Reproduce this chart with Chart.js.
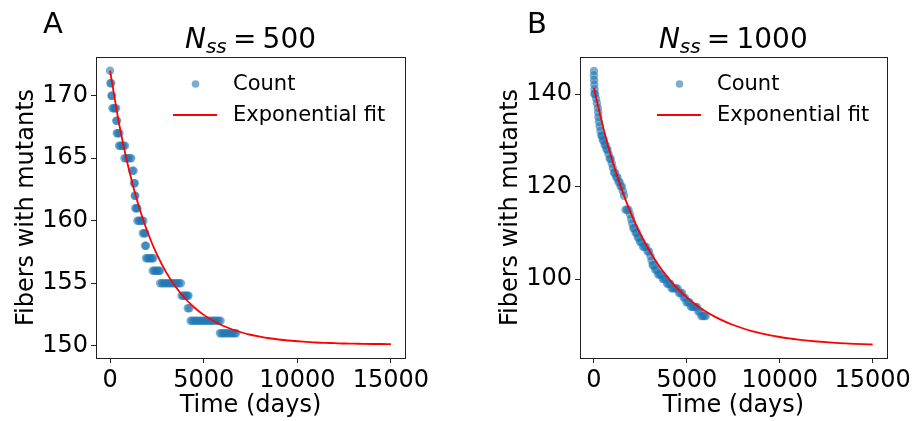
<!DOCTYPE html>
<html>
<head>
<meta charset="utf-8">
<script src="https://cdn.jsdelivr.net/npm/chart.js@4.4.1/dist/chart.umd.min.js"></script>
<style>
  html, body { margin: 0; padding: 0; background: #fff; }
  #wrap { position: relative; width: 915px; height: 421px; overflow: hidden; }
  canvas { position: absolute; top: 0; }
  #painelA { left: 0; }
  #painelB { left: 484px; }
</style>
</head>
<body>
<div id="wrap">
  <canvas id="painelA" width="457" height="421"></canvas>
  <canvas id="painelB" width="431" height="421"></canvas>
</div>
<script>
// dados (tempo em dias, contagem de fibras)
const timesA = [
  0,
  20, 60,
  70, 110,
  130, 200, 260, 320,
  330, 380,
  360, 430, 500,
  480, 560, 640, 720, 800,
  770, 860, 950, 1040, 1130,
  1190, 1260,
  1280, 1320,
  1320, 1350,
  1350, 1410, 1460,
  1460, 1540, 1620, 1700, 1780,
  1750, 1820, 1880,
  1870, 1920,
  1920, 2000, 2080, 2160, 2240, 2310,
  2280, 2360, 2440, 2520, 2600, 2670,
  2680, 2780, 2880, 2980, 3080, 3180, 3280, 3380, 3480, 3580, 3680, 3780,
  3820, 3900, 3980, 4060, 4130, 4190,
  4150, 4240,
  4300, 4400, 4500, 4600, 4700, 4800, 4900, 5000, 5100, 5200, 5300, 5400, 5500, 5600, 5700, 5800, 5900,
  5870, 5960, 6060, 6160, 6260, 6360, 6460, 6560, 6650, 6730
];
const countsA = [
  172,
  171, 171,
  170, 170,
  169, 169, 169, 169,
  168, 168,
  167, 167, 167,
  166, 166, 166, 166, 166,
  165, 165, 165, 165, 165,
  164, 164,
  163, 163,
  162, 162,
  161, 161, 161,
  160, 160, 160, 160, 160,
  159, 159, 159,
  158, 158,
  157, 157, 157, 157, 157, 157,
  156, 156, 156, 156, 156, 156,
  155, 155, 155, 155, 155, 155, 155, 155, 155, 155, 155, 155,
  154, 154, 154, 154, 154, 154,
  153, 153,
  152, 152, 152, 152, 152, 152, 152, 152, 152, 152, 152, 152, 152, 152, 152, 152, 152,
  151, 151, 151, 151, 151, 151, 151, 151, 151, 151
];

const timesB = [
  0, 0, 10, 20, 30, 20, 60, 120, 160, 210, 230, 240, 270, 310, 350, 400, 440, 480, 530, 580,
  630, 680, 730, 790, 850, 900, 960, 1020, 1080, 1140, 1200, 1260, 1320, 1380, 1440, 1500, 1560, 1620,
  1700, 1780, 1860, 1940, 2000, 2060, 2120, 2180, 2240, 2300, 2360, 2420, 2480, 2560, 2640, 2720,
  2800, 2880, 2960, 3040, 3100, 3160, 3220, 3300, 3380, 3460, 3540, 3620, 3700, 3780, 3860, 3940,
  4020, 4100, 4180, 4260, 4340, 4420, 4500, 4580, 4660, 4740, 4820, 4900, 4980, 5060, 5140, 5220,
  5300, 5380, 5460, 5540, 5620, 5700, 5780, 5860, 5940, 6020
];
const countsB = [
  145, 144, 143, 142, 141, 140, 140, 139, 138, 137, 136, 135, 134, 133, 132, 131, 131, 130, 130, 129,
  129, 128, 128, 127, 126, 126, 125, 124, 123, 123, 122, 122, 121, 121, 120, 120, 119, 118,
  115, 115, 115, 114, 113, 112, 111, 111, 110, 110, 109, 109, 108, 108, 107, 107,
  107, 106, 106, 105, 104, 103, 103, 102, 102, 101, 101, 101, 100, 100, 100, 99,
  99, 99, 98, 98, 98, 98, 98, 97, 97, 97, 96, 96, 95, 95, 95, 94,
  94, 94, 94, 94, 93, 93, 92, 92, 92, 92
];

const fitTimes = [0, 500, 1000, 1500, 2000, 2500, 3000, 3500, 4000, 4500, 5000, 5500, 6000, 6500, 7000, 7500,
  8000, 8500, 9000, 9500, 10000, 10500, 11000, 11500, 12000, 12500, 13000, 13500, 14000, 14500, 15000];
const fitA = [172.0, 167.63, 164.14, 161.34, 159.10, 157.31, 155.87, 154.72, 153.80, 153.06, 152.47, 152.00,
  151.62, 151.32, 151.08, 150.88, 150.73, 150.60, 150.50, 150.42, 150.36, 150.31, 150.26, 150.23, 150.21,
  150.18, 150.17, 150.15, 150.14, 150.14, 150.13];
const fitB = [141.3, 132.74, 125.48, 119.34, 114.15, 109.75, 106.03, 102.88, 100.21, 97.95, 96.04, 94.42,
  93.05, 91.89, 90.91, 90.08, 89.38, 88.78, 88.28, 87.85, 87.49, 87.19, 86.93, 86.71, 86.52, 86.36,
  86.23, 86.12, 86.02, 85.94, 85.87];

const xTicks = [0, 5000, 10000, 15000];
const yTicksA = [150, 155, 160, 165, 170];
const yTicksB = [100, 120, 140];

const fonte = '"DejaVu Sans", sans-serif';
const azul = 'rgba(31, 119, 180, 0.6)';
const vermelho = '#ff0000';

function pares(xs, ys) {
  return xs.map((x, i) => ({ x: x, y: ys[i] }));
}

// plugin: moldura, título com subscrito, letra do painel e legenda
const extras = {
  id: 'extras',
  afterDraw(chart, args, opts) {
    const ctx = chart.ctx;
    const a = chart.chartArea;
    ctx.save();

    // moldura (spines)
    ctx.strokeStyle = '#222';
    ctx.lineWidth = 1;
    ctx.strokeRect(Math.round(a.left) + 0.5, Math.round(a.top) + 0.5,
      Math.round(a.right - a.left), Math.round(a.bottom - a.top));

    // letra
    ctx.fillStyle = '#000';
    ctx.textBaseline = 'alphabetic';
    ctx.textAlign = 'left';
    ctx.font = '29px ' + fonte;
    ctx.fillText(opts.letra, 43, 33);

    // título N_ss = valor
    const s = 28;
    const fN = 'italic ' + s + 'px ' + fonte;
    const fSub = 'italic ' + Math.round(s * 0.7) + 'px ' + fonte;
    const fResto = s + 'px ' + fonte;
    ctx.font = fN; const wN = ctx.measureText('N').width;
    ctx.font = fSub; const wS = ctx.measureText('ss').width;
    ctx.font = fResto;
    const wEq = ctx.measureText('=').width;
    const wV = ctx.measureText(opts.nss).width;
    const gap = s * 0.22;
    let x = (a.left + a.right) / 2 - (wN + wS + gap * 2 + wEq + wV) / 2;
    const base = 48;
    ctx.font = fN; ctx.fillText('N', x, base); x += wN;
    ctx.font = fSub; ctx.fillText('ss', x, base + 5); x += wS + gap;
    ctx.font = fResto; ctx.fillText('=', x, base); x += wEq + gap;
    ctx.fillText(opts.nss, x, base);

    // legenda
    ctx.font = '21px ' + fonte;
    ctx.textBaseline = 'middle';
    ctx.fillStyle = azul;
    ctx.beginPath();
    ctx.arc(a.left + 99.5, a.top + 27, 3.8, 0, Math.PI * 2);
    ctx.fill();
    ctx.strokeStyle = vermelho;
    ctx.lineWidth = 1.8;
    ctx.beginPath();
    ctx.moveTo(a.left + 77, a.top + 58);
    ctx.lineTo(a.left + 121, a.top + 58);
    ctx.stroke();
    ctx.fillStyle = '#000';
    ctx.fillText('Count', a.left + 137, a.top + 28);
    ctx.fillText('Exponential fit', a.left + 137, a.top + 59);
    ctx.restore();
  }
};

function fazerGrafico(id, times, counts, fit, yTicks, yMin, yMax, direita, letra, nss) {
  const tickFont = { family: fonte, size: 24 };
  return new Chart(document.getElementById(id), {
    type: 'scatter',
    data: {
      datasets: [
        {
          label: 'Count',
          data: pares(times, counts),
          backgroundColor: azul,
          borderWidth: 0,
          pointRadius: 4.2,
          order: 1
        },
        {
          label: 'Exponential fit',
          data: pares(fitTimes, fit),
          showLine: true,
          borderColor: vermelho,
          borderWidth: 1.8,
          pointRadius: 0,
          cubicInterpolationMode: 'monotone',
          order: 0
        }
      ]
    },
    options: {
      responsive: false,
      animation: false,
      layout: { padding: { top: 57, right: direita, bottom: 0, left: 0 } },
      scales: {
        x: {
          type: 'linear',
          min: -750,
          max: 15750,
          afterFit: s => { s.height = 63; },
          afterBuildTicks: s => { s.ticks = xTicks.map(v => ({ value: v })); },
          ticks: { color: '#000', font: tickFont, padding: 3, maxRotation: 0, callback: v => String(v) },
          grid: { drawOnChartArea: false, tickLength: 5, color: '#222' },
          border: { color: '#222' },
          title: { display: true, text: 'Time (days)', color: '#000', font: tickFont, padding: { top: 0, bottom: 1 } }
        },
        y: {
          type: 'linear',
          min: yMin,
          max: yMax,
          afterFit: s => { s.width = 96; },
          afterBuildTicks: s => { s.ticks = yTicks.map(v => ({ value: v })); },
          ticks: { color: '#000', font: tickFont, padding: 3, callback: v => String(v) },
          grid: { drawOnChartArea: false, tickLength: 5, color: '#222' },
          border: { color: '#222' },
          title: { display: true, text: 'Fibers with mutants', color: '#000', font: tickFont, padding: { top: 12, bottom: 0 } }
        }
      },
      plugins: {
        legend: { display: false },
        tooltip: { enabled: false },
        extras: { letra: letra, nss: nss }
      }
    },
    plugins: [extras]
  });
}

fazerGrafico('painelA', timesA, countsA, fitA, yTicksA, 149.02, 173.1, 52, 'A', '500');
fazerGrafico('painelB', timesB, countsB, fitB, yTicksB, 82.95, 148.0, 26, 'B', '1000');
</script>
</body>
</html>
